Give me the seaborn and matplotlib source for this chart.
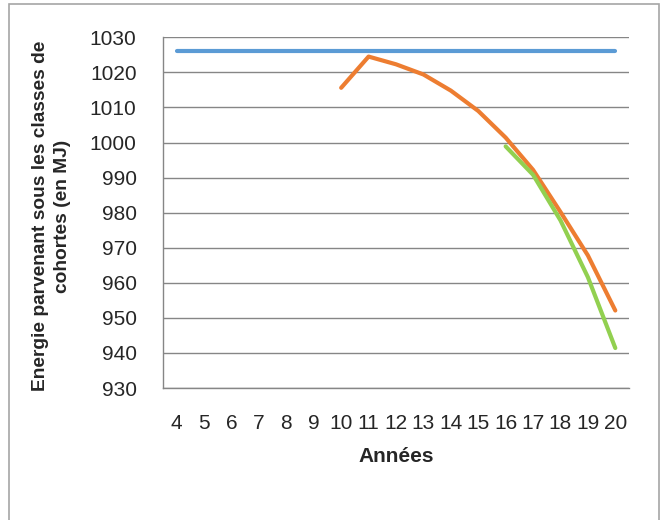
import pandas as pd
import seaborn as sns
import matplotlib.pyplot as plt
from matplotlib.patches import Rectangle

# data
annees = list(range(4, 21))
serie_bleue = [1026.1] * 17
annees_orange = [10, 11, 12, 13, 14, 15, 16, 17, 18, 19, 20]
serie_orange = [1015.6, 1024.5, 1022.3, 1019.4, 1014.8, 1009.0, 1001.4, 992.2, 980.2, 967.8, 952.1]
annees_verte = [16, 17, 18, 19, 20]
serie_verte = [998.9, 990.8, 977.8, 961.6, 941.4]
y_ticks = list(range(930, 1031, 10))

couleurs = {"bleu": "#5B9BD5", "orange": "#ED7D31", "vert": "#92D050"}


def build_frame():
    parts = [
        pd.DataFrame({"annee": annees, "energie": serie_bleue, "serie": "bleu"}),
        pd.DataFrame({"annee": annees_orange, "energie": serie_orange, "serie": "orange"}),
        pd.DataFrame({"annee": annees_verte, "energie": serie_verte, "serie": "vert"}),
    ]
    return pd.concat(parts, ignore_index=True)


def makeplot(df):
    sns.set_style("white")
    plt.rcParams['font.family'] = ['Liberation Sans', 'DejaVu Sans']

    fig = plt.figure(figsize=(6.61, 5.2), dpi=100)
    ax = fig.add_axes([163 / 661, 1 - 388 / 520, (629 - 163) / 661, (388 - 37.3) / 520])

    sns.lineplot(data=df, x="annee", y="energie", hue="serie", palette=couleurs,
                 linewidth=3, legend=False, ax=ax, sort=True)

    ax.set_xlim(3.5, 20.5)
    ax.set_ylim(930, 1030)
    ax.set_yticks(y_ticks)
    ax.set_xticks(annees)
    ax.set_xticks([a - 0.5 for a in annees] + [20.5], minor=True)
    ax.tick_params(axis="x", which="major", length=0, pad=19, labelsize=15)
    ax.tick_params(axis="x", which="minor", length=6, width=1, color="#868686")
    ax.tick_params(axis="y", which="major", length=5, width=1, color="#868686",
                   pad=14, labelsize=15)

    ax.grid(axis="y", color="#868686", linewidth=1)
    ax.set_axisbelow(True)
    for side in ["top", "right"]:
        ax.spines[side].set_visible(False)
    for side in ["left", "bottom"]:
        ax.spines[side].set_color("#868686")
        ax.spines[side].set_linewidth(1)

    ax.set_xlabel("Années", fontsize=15, weight="bold", labelpad=10)
    ax.set_ylabel("Energie parvenant sous les classes de\ncohortes (en MJ)",
                  fontsize=13.8, weight="bold", linespacing=1.4)
    ax.yaxis.set_label_coords((71 - 163) / 466, 0.49)

    # chart area border like the spreadsheet original
    fig.patches.append(Rectangle((9 / 661, -0.05), 650 / 661, 1.05 - 4 / 520,
                                 transform=fig.transFigure, fill=False,
                                 edgecolor="#A6A6A6", linewidth=1.2))

    plt.savefig("out.png", dpi=100)


def main():
    makeplot(build_frame())


if __name__ == "__main__":
    main()
